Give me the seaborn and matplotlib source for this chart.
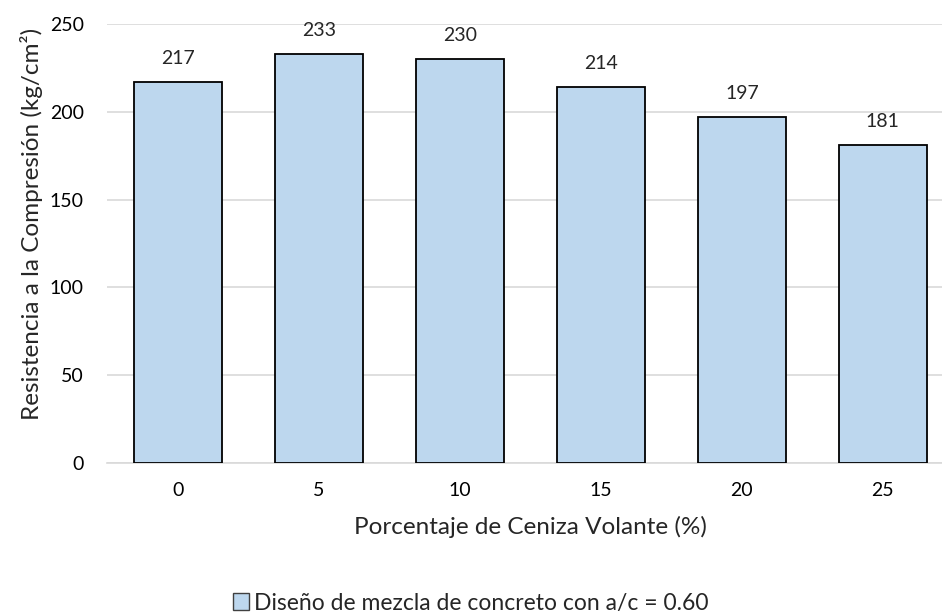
import matplotlib.pyplot as plt
import matplotlib.patches as mpatches
import pandas as pd
import seaborn as sns

# Datos
porcentaje = ["0", "5", "10", "15", "20", "25"]
resistencia = [217, 233, 230, 214, 197, 181]
etiqueta_serie = "Diseño de mezcla de concreto con a/c = 0.60"

sns.set_style("white")
plt.rcParams["font.family"] = ["Lato", "DejaVu Sans"]
plt.rcParams["font.size"] = 14

df = pd.DataFrame({"Porcentaje": porcentaje, "Resistencia": resistencia})

fig = plt.figure(figsize=(9.42, 6.13), dpi=100)
ax = fig.add_axes([0.1141, 0.2447, 0.898, 0.7161])

sns.barplot(
    data=df,
    x="Porcentaje",
    y="Resistencia",
    color="#BDD7EE",
    saturation=1,
    edgecolor="black",
    linewidth=1.3,
    width=0.625,
    ax=ax,
    zorder=3,
)

ax.set_ylim(0, 250)
ax.set_yticks(range(0, 251, 50))
ax.yaxis.grid(True, color="#D9D9D9", linewidth=1.2, zorder=0)
ax.set_axisbelow(True)
for side in ["top", "right", "left"]:
    ax.spines[side].set_visible(False)
ax.spines["bottom"].set_color("#D9D9D9")
ax.spines["bottom"].set_linewidth(1.2)
ax.tick_params(axis="y", length=0, labelsize=14, colors="black", pad=17)
ax.tick_params(axis="x", length=0, labelsize=14, colors="black", pad=14)

# Etiquetas de valor sobre las barras
for bar, v in zip(ax.patches, resistencia):
    ax.annotate(
        f"{v}",
        (bar.get_x() + bar.get_width() / 2, bar.get_height()),
        xytext=(0, 11),
        textcoords="offset points",
        ha="center",
        va="bottom",
        fontsize=14,
    )

ax.set_xlabel("Porcentaje de Ceniza Volante (%)", fontsize=17.5, labelpad=12)
ax.set_ylabel("Resistencia a la Compresión (kg/cm²)", fontsize=17.5)
ax.yaxis.label.set_va("center")
ax.yaxis.set_label_coords(-0.0898, 0.544)

handle = mpatches.Patch(facecolor="#BDD7EE", edgecolor="#404040", linewidth=1)
fig.legend(
    [handle],
    [etiqueta_serie],
    loc="center",
    bbox_to_anchor=(0.5, 0.0163),
    frameon=False,
    fontsize=16.5,
    handlelength=0.7,
    handleheight=0.7,
    handletextpad=0.2,
    borderpad=0,
)

fig.savefig("out.png", dpi=100)
